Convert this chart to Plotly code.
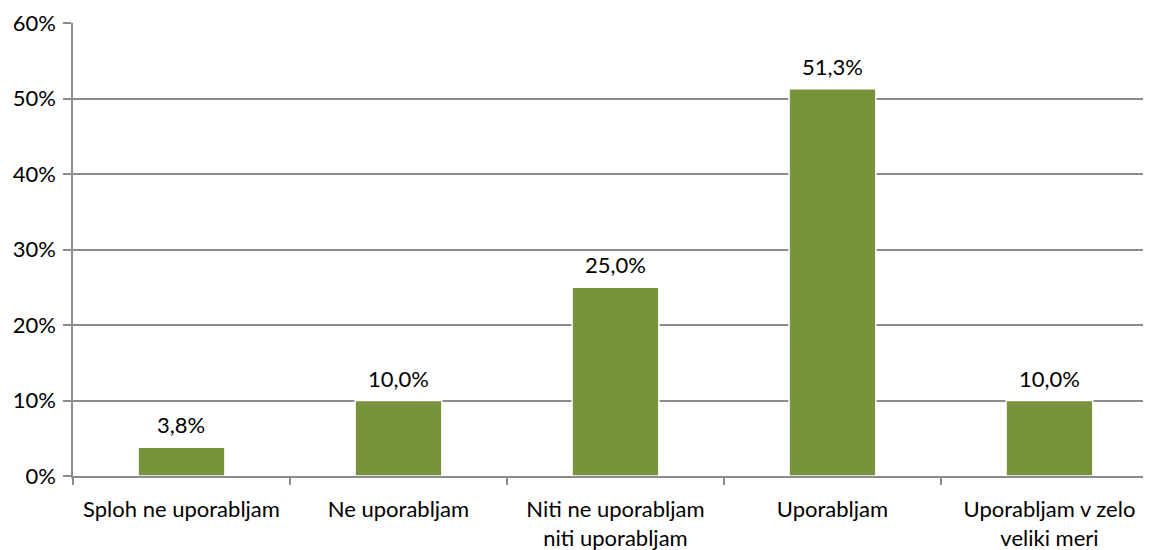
import plotly.graph_objects as go

categories = ["Sploh ne uporabljam", "Ne uporabljam", "Niti ne uporabljam<br>niti uporabljam",
              "Uporabljam", "Uporabljam v zelo<br>veliki meri"]
values = [0.038, 0.100, 0.250, 0.513, 0.100]
labels = ["3,8%", "10,0%", "25,0%", "51,3%", "10,0%"]
y_ticks = [0, 0.1, 0.2, 0.3, 0.4, 0.5, 0.6]
y_tick_text = ["0%", "10%", "20%", "30%", "40%", "50%", "60%"]

FONT = "Lato"
FS = 22
GRID = "#8c8c8c"

fig = go.Figure()
fig.add_trace(go.Bar(
    x=list(range(len(categories))), y=values,
    marker=dict(color="#77933C", line=dict(color="#ffffff", width=1.5)),
    width=0.4,
    hoverinfo="skip",
))
for i, (v, t) in enumerate(zip(values, labels)):
    fig.add_annotation(x=i, y=v, text=t, showarrow=False, yanchor="bottom",
                       yshift=7, font=dict(family=FONT, size=FS, color="#000000"))

# page body adds an 8px margin, so the figure is sized/offset to compensate
fig.update_layout(
    width=1143, height=542,
    margin=dict(l=65, r=0, t=15, b=74, autoexpand=False),
    paper_bgcolor="white", plot_bgcolor="white",
    showlegend=False,
    font=dict(family=FONT, size=FS, color="#000000"),
    bargap=0.6,
)
fig.update_xaxes(
    range=[-0.5, 4.468],
    tickmode="array", tickvals=list(range(len(categories))), ticktext=categories,
    showgrid=False, showline=True, linecolor=GRID, linewidth=1.5,
    ticks="", zeroline=False, ticklabelstandoff=13,
)
fig.update_xaxes(minor=dict(tickmode="array", tickvals=[-0.5, 0.5, 1.5, 2.5, 3.5, 4.5],
                            ticks="outside", ticklen=7, tickcolor=GRID, tickwidth=1.5,
                            showgrid=False))
fig.update_yaxes(
    range=[0, 0.6], tickmode="array", tickvals=y_ticks, ticktext=y_tick_text,
    showgrid=True, gridcolor=GRID, gridwidth=1.5,
    showline=True, linecolor=GRID, linewidth=1.5,
    ticks="outside", ticklen=8, tickcolor=GRID, tickwidth=1.5,
    zeroline=False, ticklabelstandoff=3,
)
fig.write_html("out.html")
